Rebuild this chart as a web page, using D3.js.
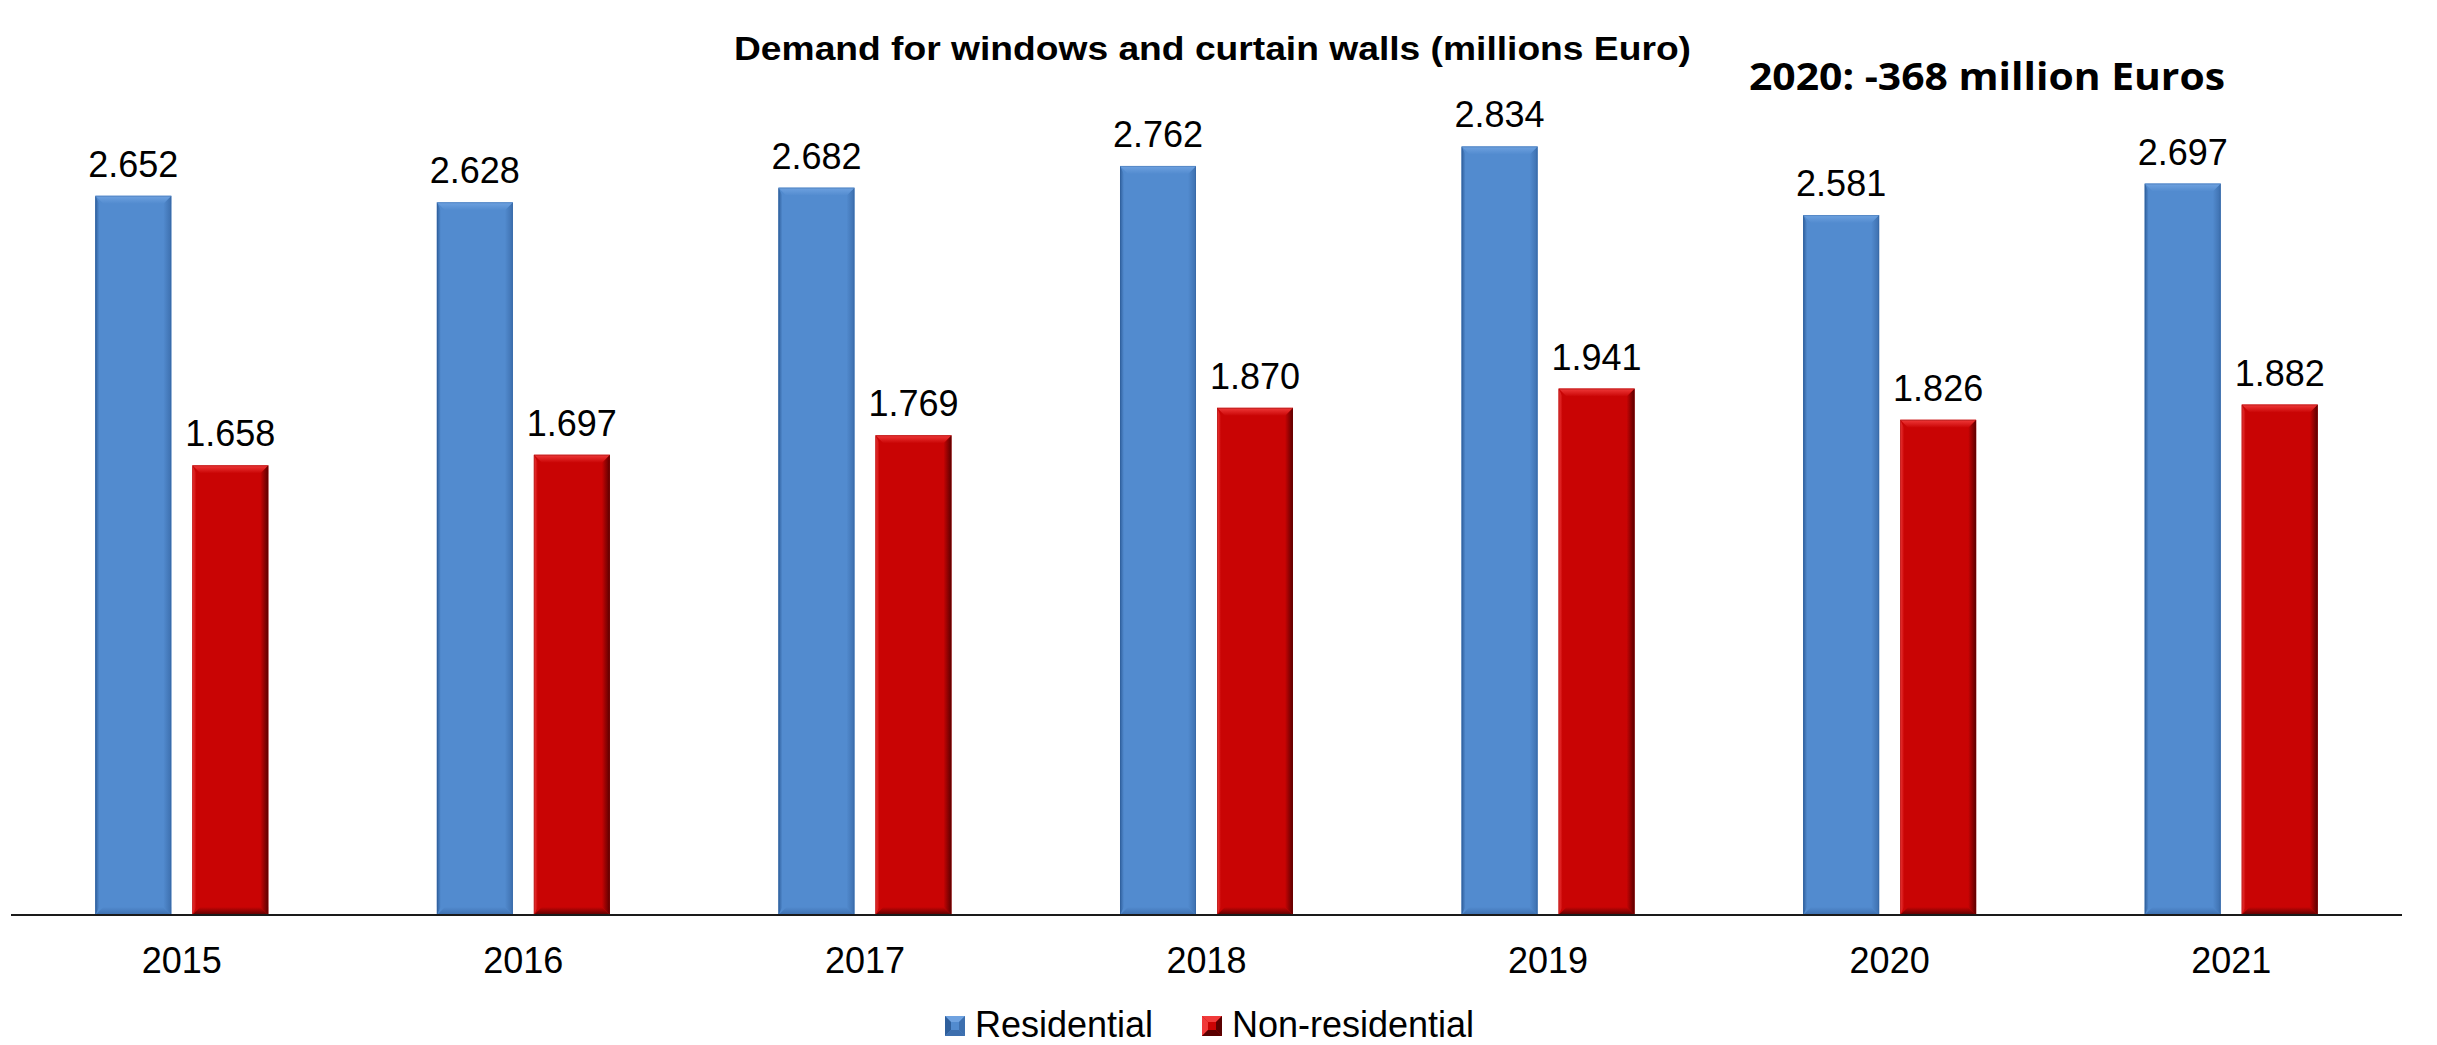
<!DOCTYPE html>
<html>
<head>
<meta charset="utf-8">
<script src="https://cdn.jsdelivr.net/npm/d3@7"></script>
<style>
  html, body { margin: 0; padding: 0; background: #ffffff; }
  svg { display: block; }
</style>
</head>
<body>
<svg id="chart" width="2437" height="1045"></svg>
<script>
// Demand for windows and curtain walls, millions of euro
const years = ["2015", "2016", "2017", "2018", "2019", "2020", "2021"];
const seriesNames = ["Residential", "Non-residential"];
const residential = [2.652, 2.628, 2.682, 2.762, 2.834, 2.581, 2.697];
const nonResidential = [1.658, 1.697, 1.769, 1.870, 1.941, 1.826, 1.882];
const valueLabels = {
  "Residential": ["2.652", "2.628", "2.682", "2.762", "2.834", "2.581", "2.697"],
  "Non-residential": ["1.658", "1.697", "1.769", "1.870", "1.941", "1.826", "1.882"]
};
const yDomain = [0, 3];

const titleText = "Demand for windows and curtain walls (millions Euro)";
const noteText = "2020: -368 million Euros";

const palette = {
  "Residential": { base: "#528bcf", light: "#6fa2e0", dark: "#3d6fae", edge: "#2f5f9c" },
  "Non-residential": { base: "#c90404", light: "#f03a3a", dark: "#5a0000", edge: "#7a0000" }
};

const svg = d3.select("#chart");
const plot = { left: 11, right: 2402, top: 101.4, bottom: 915 };

const x0 = d3.scaleBand().domain(years).range([plot.left, plot.right]).padding(0);
const pairWidth = 173;
const x1 = d3.scaleBand().domain(seriesNames)
  .range([(x0.bandwidth() - pairWidth) / 2, (x0.bandwidth() + pairWidth) / 2])
  .paddingInner(21 / 97).paddingOuter(0);
const y = d3.scaleLinear().domain(yDomain).range([plot.bottom, plot.top]);

// gradients for the bevelled edges
const defs = svg.append("defs");
function grad(id, x1g, y1g, x2g, y2g, stops) {
  const g = defs.append("linearGradient").attr("id", id)
    .attr("x1", x1g).attr("y1", y1g).attr("x2", x2g).attr("y2", y2g);
  stops.forEach(s => g.append("stop").attr("offset", s[0]).attr("stop-color", s[1]).attr("stop-opacity", s[2] ?? 1));
}
seriesNames.forEach((s, i) => {
  const c = palette[s];
  grad(`top${i}`, 0, 0, 0, 1, [[0, c.light], [1, c.base]]);
  grad(`bot${i}`, 0, 0, 0, 1, [[0, c.base], [1, c.dark]]);
  grad(`lft${i}`, 0, 0, 1, 0, [[0, i === 0 ? c.edge : c.light], [1, c.base]]);
  grad(`rgt${i}`, 0, 0, 1, 0, [[0, c.base], [1, c.dark]]);
});

const rows = years.map((yr, i) => ({
  year: yr,
  values: [
    { series: "Residential", value: residential[i], label: valueLabels["Residential"][i] },
    { series: "Non-residential", value: nonResidential[i], label: valueLabels["Non-residential"][i] }
  ]
}));

const bev = 8;
function bevelBar(sel, x, yTop, w, h, si) {
  const c = palette[seriesNames[si]];
  const b = Math.min(bev, h / 2, w / 2);
  sel.append("rect").attr("x", x).attr("y", yTop).attr("width", w).attr("height", h).attr("fill", c.base);
  const x2 = x + w, y2 = yTop + h;
  const poly = (pts, fill) => sel.append("polygon").attr("points", pts.map(p => p.join(",")).join(" ")).attr("fill", fill);
  poly([[x, yTop], [x + b * 0.5, yTop + b], [x + b * 0.5, y2 - b], [x, y2]], `url(#lft${si})`);
  poly([[x2, yTop], [x2 - b, yTop + b], [x2 - b, y2 - b], [x2, y2]], `url(#rgt${si})`);
  poly([[x, y2], [x + b, y2 - b], [x2 - b, y2 - b], [x2, y2]], `url(#bot${si})`);
  poly([[x, yTop], [x + b, yTop + b], [x2 - b, yTop + b], [x2, yTop]], `url(#top${si})`);
  sel.append("rect").attr("x", x + 0.5).attr("y", yTop + 0.5).attr("width", w - 1).attr("height", h - 1)
    .attr("fill", "none").attr("stroke", c.edge).attr("stroke-opacity", 0.35).attr("stroke-width", 1);
}

const groups = svg.append("g").selectAll("g.year").data(rows).join("g")
  .attr("class", "year")
  .attr("transform", d => `translate(${x0(d.year)},0)`);

groups.each(function(d) {
  const g = d3.select(this);
  d.values.forEach((v, si) => {
    const bx = x1(v.series), bw = x1.bandwidth();
    const top = y(v.value), h = y(0) - y(v.value);
    bevelBar(g.append("g"), bx, top, bw, h, si);
    g.append("text")
      .attr("x", bx + bw / 2).attr("y", top - 19)
      .attr("text-anchor", "middle")
      .attr("font-family", "Liberation Sans, Arial, sans-serif")
      .attr("font-size", 36).attr("fill", "#000")
      .text(v.label);
  });
});

// category axis along the baseline
const xAxis = d3.axisBottom(x0).tickSize(0).tickPadding(32);
const axisG = svg.append("g").attr("transform", `translate(0,${plot.bottom})`).call(xAxis);
axisG.select(".domain").attr("stroke", "#1a1a1a").attr("stroke-width", 2)
  .attr("d", `M${plot.left},0H${plot.right}`);
axisG.selectAll(".tick text")
  .attr("font-family", "Liberation Sans, Arial, sans-serif")
  .attr("font-size", 36).attr("fill", "#000")
  .attr("dy", null).attr("y", 58);

// title
svg.append("text")
  .attr("x", 1212.5).attr("y", 60)
  .attr("text-anchor", "middle")
  .attr("font-family", "Liberation Sans, Arial, sans-serif")
  .attr("font-weight", "bold").attr("font-size", 34)
  .attr("textLength", 957).attr("lengthAdjust", "spacingAndGlyphs")
  .attr("fill", "#000")
  .text(titleText);

// note
svg.append("text")
  .attr("x", 1749).attr("y", 90)
  .attr("font-family", "'Open Sans', 'Noto Sans', sans-serif")
  .attr("font-weight", "bold").attr("font-size", 38)
  .attr("textLength", 476).attr("lengthAdjust", "spacingAndGlyphs")
  .attr("fill", "#000")
  .text(noteText);

// legend
const legendItems = [
  { name: "Residential", sx: 945, tx: 975 },
  { name: "Non-residential", sx: 1202, tx: 1232 }
];
const legend = svg.append("g");
legendItems.forEach((it, si) => {
  const c = palette[it.name];
  const s = 20, x = it.sx, yy = 1016;
  const lg = legend.append("g");
  lg.append("rect").attr("x", x).attr("y", yy).attr("width", s).attr("height", s).attr("fill", c.base);
  const poly = (pts, fill) => lg.append("polygon").attr("points", pts.map(p => p.join(",")).join(" ")).attr("fill", fill);
  const b = 6;
  poly([[x, yy], [x + b, yy + b], [x + s - b, yy + b], [x + s, yy]], c.light);
  poly([[x, yy], [x + b, yy + b], [x + b, yy + s - b], [x, yy + s]], si === 0 ? c.edge : c.light);
  poly([[x + s, yy], [x + s - b, yy + b], [x + s - b, yy + s - b], [x + s, yy + s]], c.dark);
  poly([[x, yy + s], [x + b, yy + s - b], [x + s - b, yy + s - b], [x + s, yy + s]], c.dark);
  lg.append("text").attr("x", it.tx).attr("y", 1037)
    .attr("font-family", "Liberation Sans, Arial, sans-serif")
    .attr("font-size", 36).attr("fill", "#000")
    .text(it.name);
});
</script>
</body>
</html>
